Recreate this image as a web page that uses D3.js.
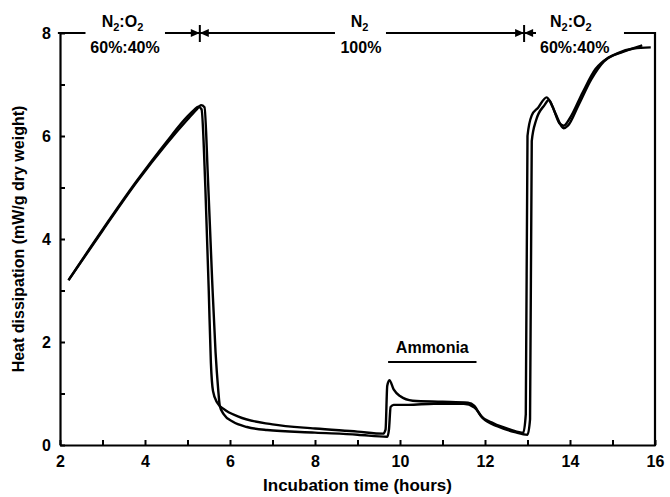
<!DOCTYPE html>
<html>
<head>
<meta charset="utf-8">
<script src="https://cdn.jsdelivr.net/npm/d3@7"></script>
<style>
body { margin: 0; background: #fff; }
text { font-family: "Liberation Sans", Arial, sans-serif; font-weight: bold; fill: #000; }
</style>
</head>
<body>
<script>
// ---- data ----
var runA_time = [2.2, 3.0, 3.8, 4.5, 5.0, 5.15, 5.25, 5.33, 5.42, 5.5, 5.55, 5.6, 5.7, 5.85, 6.2, 7.0, 8.0, 9.0, 9.6, 9.66, 9.7, 9.75, 9.85, 10.0, 10.3, 11.0, 11.6, 11.75, 11.9, 12.2, 12.6, 12.9, 12.96, 13.0, 13.1, 13.25, 13.45, 13.6, 13.75, 13.85, 14.0, 14.3, 14.6, 14.9, 15.2, 15.7];
var runA_heat = [3.2, 4.18, 5.12, 5.88, 6.38, 6.5, 6.57, 6.52, 5.0, 3.0, 1.6, 1.05, 0.82, 0.7, 0.55, 0.4, 0.32, 0.26, 0.22, 0.3, 1.15, 1.26, 1.08, 0.95, 0.86, 0.84, 0.82, 0.76, 0.57, 0.42, 0.3, 0.24, 0.6, 6.0, 6.4, 6.55, 6.75, 6.55, 6.25, 6.2, 6.35, 6.85, 7.3, 7.52, 7.62, 7.76];

var runB_time = [2.2, 3.0, 3.8, 4.5, 5.0, 5.2, 5.32, 5.4, 5.48, 5.58, 5.66, 5.72, 5.76, 5.85, 6.07, 6.4, 6.87, 8.0, 9.0, 9.7, 9.74, 9.78, 9.85, 10.2, 10.8, 11.5, 11.75, 11.95, 12.3, 12.7, 13.0, 13.06, 13.1, 13.2, 13.4, 13.5, 13.65, 13.85, 13.95, 14.2, 14.5, 14.8, 15.1, 15.5, 15.9];
var runB_heat = [3.2, 4.16, 5.1, 5.84, 6.32, 6.5, 6.6, 6.56, 5.2, 3.2, 1.8, 1.1, 0.76, 0.6, 0.45, 0.35, 0.29, 0.24, 0.2, 0.16, 0.3, 0.74, 0.78, 0.78, 0.8, 0.8, 0.73, 0.52, 0.36, 0.25, 0.2, 0.5, 5.9, 6.3, 6.6, 6.7, 6.45, 6.15, 6.2, 6.6, 7.1, 7.45, 7.6, 7.7, 7.72];

var phaseSwitch = [5.29, 12.92];      // gas changes (hours)
var ammoniaPeriod = [9.72, 11.8];     // ammonia addition (hours)
var xTicks = d3.range(2, 17, 1);
var yTicks = d3.range(0, 9, 1);

var width = 670, height = 497;
var margin = {left: 60, right: 15, top: 33, bottom: 52};

var svg = d3.select("body").append("svg")
  .attr("width", width).attr("height", height);

var x = d3.scaleLinear().domain([2, 16]).range([margin.left, width - margin.right]);
var y = d3.scaleLinear().domain([0, 8]).range([height - margin.bottom, margin.top]);

// axes, ticks point inward
var xAxis = d3.axisBottom(x).tickValues(xTicks)
  .tickSizeInner(-5).tickSizeOuter(0).tickPadding(11)
  .tickFormat(function(d) { return d % 2 === 0 ? d : ""; });
var yAxis = d3.axisLeft(y).tickValues(yTicks)
  .tickSizeInner(-5).tickSizeOuter(0).tickPadding(9)
  .tickFormat(function(d) { return d % 2 === 0 ? d : ""; });

var gx = svg.append("g").attr("transform", "translate(0," + y(0) + ")").call(xAxis);
var gy = svg.append("g").attr("transform", "translate(" + x(2) + ",0)").call(yAxis);
[gx, gy].forEach(function(g) {
  g.select(".domain").attr("stroke", "#000").attr("stroke-width", 2.2);
  g.selectAll(".tick line").attr("stroke", "#000").attr("stroke-width", 2);
  g.selectAll(".tick text").style("font-size", "16px").style("font-family", "'Liberation Sans', Arial, sans-serif").style("font-weight", "bold");
});

// right frame
svg.append("line")
  .attr("x1", x(16)).attr("x2", x(16)).attr("y1", y(8) - 1).attr("y2", y(0) + 1)
  .attr("stroke", "#000").attr("stroke-width", 2.2);

// top frame with gas annotation
var topY = y(8);
var segs = [[1.95, 2.6], [4.47, phaseSwitch[0]], [phaseSwitch[0], 8.47], [9.67, phaseSwitch[1]], [phaseSwitch[1], 13.2], [15.27, 16.02]];
svg.selectAll(".topseg").data(segs).enter().append("line")
  .attr("x1", function(d) { return x(d[0]); })
  .attr("x2", function(d) { return x(d[1]); })
  .attr("y1", topY).attr("y2", topY)
  .attr("stroke", "#000").attr("stroke-width", 2);

phaseSwitch.forEach(function(t) {
  var px = x(t);
  svg.append("path")
    .attr("d", "M" + px + "," + topY + "L" + (px - 9) + "," + (topY - 4) + "L" + (px - 9) + "," + (topY + 4) + "Z")
    .attr("fill", "#000");
  svg.append("path")
    .attr("d", "M" + px + "," + topY + "L" + (px + 9) + "," + (topY - 4) + "L" + (px + 9) + "," + (topY + 4) + "Z")
    .attr("fill", "#000");
  svg.append("line")
    .attr("x1", px).attr("x2", px).attr("y1", topY - 8).attr("y2", topY + 9)
    .attr("stroke", "#000").attr("stroke-width", 2);
});

function gasLabel(cx, mix) {
  var t = svg.append("text").attr("x", cx).attr("y", 27)
    .attr("text-anchor", "middle").style("font-size", "16px");
  t.append("tspan").text("N");
  t.append("tspan").attr("dy", 4).style("font-size", "11px").text("2");
  if (mix) {
    t.append("tspan").attr("dy", -4).text(":O");
    t.append("tspan").attr("dy", 4).style("font-size", "11px").text("2");
  }
}
gasLabel(x(3.47), true);
gasLabel(x(9.05), false);
gasLabel(x(14.02), true);

var pctLabels = [[3.53, "60%:40%"], [9.08, "100%"], [14.11, "60%:40%"]];
svg.selectAll(".pct").data(pctLabels).enter().append("text")
  .attr("x", function(d) { return x(d[0]); })
  .attr("y", 53)
  .attr("text-anchor", "middle")
  .style("font-size", "16px")
  .text(function(d) { return d[1]; });

// ammonia bar
svg.append("line")
  .attr("x1", x(ammoniaPeriod[0])).attr("x2", x(ammoniaPeriod[1]))
  .attr("y1", 362).attr("y2", 362)
  .attr("stroke", "#000").attr("stroke-width", 1.8);
svg.append("text")
  .attr("x", x((ammoniaPeriod[0] + ammoniaPeriod[1]) / 2)).attr("y", 353)
  .attr("text-anchor", "middle").style("font-size", "16px")
  .text("Ammonia");

// curves
var line = d3.line()
  .x(function(d) { return x(d[0]); })
  .y(function(d) { return y(d[1]); })
  .curve(d3.curveMonotoneX);

[[runA_time, runA_heat], [runB_time, runB_heat]].forEach(function(run) {
  svg.append("path")
    .datum(d3.zip(run[0], run[1]))
    .attr("d", line)
    .attr("fill", "none")
    .attr("stroke", "#000")
    .attr("stroke-width", 2.4)
    .attr("stroke-linejoin", "round");
});

// axis titles
svg.append("text")
  .attr("x", x(9)).attr("y", 491)
  .attr("text-anchor", "middle").style("font-size", "17px")
  .text("Incubation time (hours)");
svg.append("text")
  .attr("transform", "translate(24," + y(4) + ") rotate(-90)")
  .attr("text-anchor", "middle").style("font-size", "16px")
  .text("Heat dissipation (mW/g dry weight)");
</script>
</body>
</html>
